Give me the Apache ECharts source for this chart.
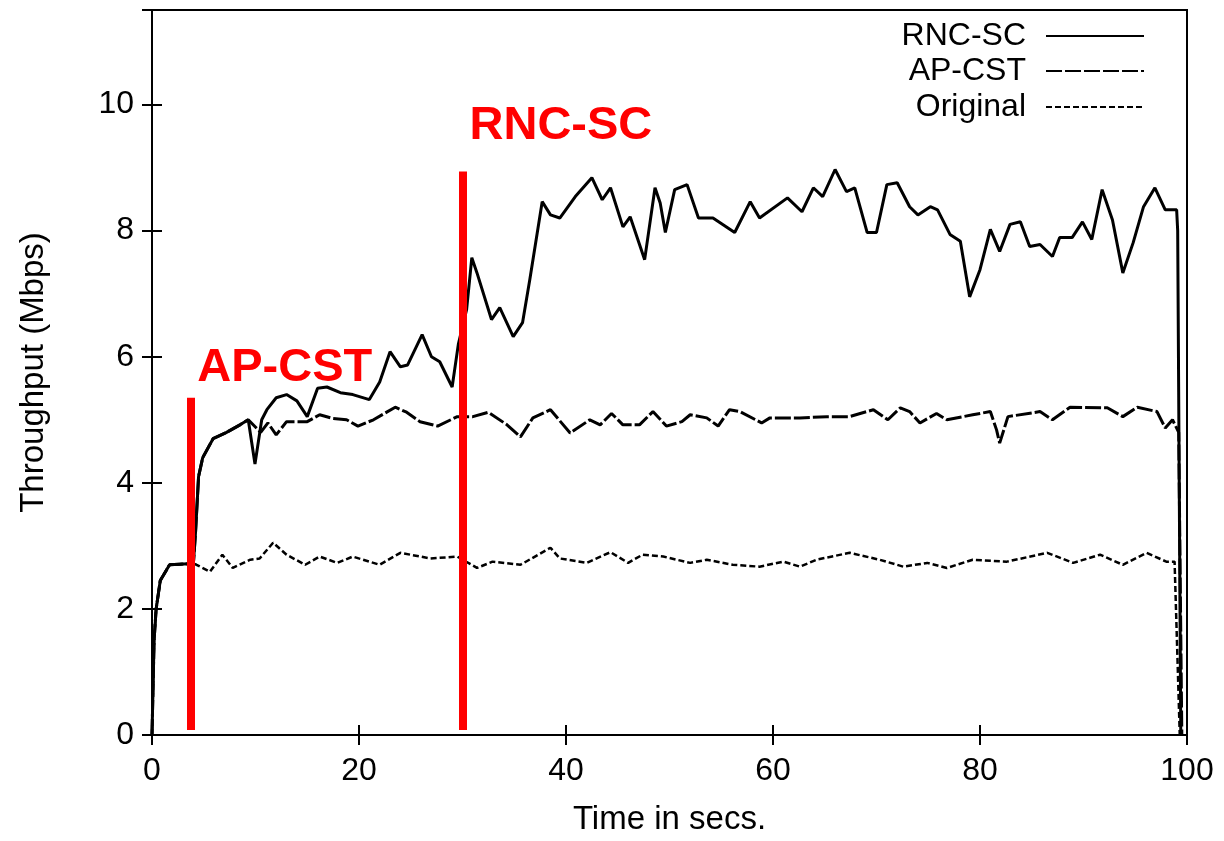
<!DOCTYPE html>
<html>
<head>
<meta charset="utf-8">
<title>Throughput vs time</title>
<script src="https://cdn.jsdelivr.net/npm/echarts@6/dist/echarts.min.js"></script>
<style>
  html, body { margin: 0; padding: 0; background: #fff; }
  #chart { width: 1224px; height: 841px; }
</style>
</head>
<body>
<div id="chart"></div>
<script>
// time (s) and throughput (Mbps)
let rncTime = [0, 0.2, 0.4, 0.8, 1.7, 4.0, 4.2, 4.5, 4.9, 5.9, 7.2, 8.5, 9.3, 9.95, 10.6, 11.1, 12, 13, 14, 15,
  16, 16.9, 18.2, 19.4, 21, 22, 23, 24, 24.7, 26.1, 27, 27.8, 29, 29.6, 30.4, 30.9, 31.4, 32.8, 33.6, 34.9,
  35.8, 36.5, 37.7, 38.5, 39.4, 40.9, 42.5, 43.5, 44.3, 45.5, 46.2, 47.6, 48.6, 49.1, 49.6, 50.5, 51.7, 52.8, 54.2, 56.3,
  57.8, 58.7, 61.4, 62.8, 63.9, 64.8, 66, 67.1, 67.9, 69.1, 70, 71, 72, 73.2, 74, 75.2, 75.9, 77.1, 78.1, 79,
  80, 81, 81.9, 82.9, 83.9, 84.8, 85.8, 87, 87.7, 88.9, 89.9, 90.8, 91.8, 92.8, 93.8, 94.8, 95.8, 96.9, 97.9, 99,
  99.1, 99.4];
let rncThroughput = [0, 1.5, 2.0, 2.45, 2.7, 2.72, 3.2, 4.1, 4.4, 4.7, 4.8, 4.92, 5.0, 4.3, 5.0, 5.16, 5.35, 5.4, 5.3, 5.05,
  5.5, 5.52, 5.43, 5.4, 5.32, 5.6, 6.08, 5.84, 5.87, 6.35, 6.0, 5.92, 5.52, 6.2, 6.75, 7.57, 7.33, 6.59, 6.78, 6.32,
  6.54, 7.22, 8.46, 8.25, 8.2, 8.54, 8.84, 8.49, 8.68, 8.06, 8.22, 7.54, 8.68, 8.44, 7.97, 8.65, 8.73, 8.2, 8.2, 7.97,
  8.46, 8.2, 8.52, 8.3, 8.68, 8.54, 8.97, 8.62, 8.68, 7.97, 7.97, 8.73, 8.76, 8.38, 8.25, 8.38, 8.33, 7.94, 7.83, 6.95,
  7.38, 8.02, 7.67, 8.1, 8.14, 7.75, 7.78, 7.59, 7.89, 7.89, 8.14, 7.86, 8.65, 8.17, 7.33, 7.81, 8.38, 8.68, 8.33, 8.33,
  8.0, 0];

let apTime = [0, 0.2, 0.4, 0.8, 1.7, 4.0, 4.2, 4.5, 4.9, 5.9, 7.2, 8.5, 9.3, 10.5, 11.2, 12, 13, 15, 16.2, 17.5,
  18.8, 19.9, 21.4, 23.5, 24.6, 25.9, 27.6, 29.5, 31, 32.5, 34.3, 35.6, 36.8, 38.5, 40.4, 42.3, 43.3, 44.4, 45.5, 47.1,
  48.4, 49.7, 51.2, 52, 53.6, 54.7, 55.8, 56.8, 58.9, 59.7, 62.6, 65.2, 67.4, 69.7, 71.1, 72.3, 73.2, 74.2, 75.8, 76.8,
  79.3, 81, 81.6, 81.9, 82.7, 85.8, 87, 88.7, 92.3, 93.8, 95.2, 97.1, 97.9, 98.6, 99.2, 99.5];
let apThroughput = [0, 1.5, 2.0, 2.45, 2.7, 2.72, 3.2, 4.1, 4.4, 4.7, 4.8, 4.92, 5.0, 4.8, 4.95, 4.76, 4.97, 4.97, 5.08, 5.02,
  5.0, 4.9, 5.0, 5.2, 5.12, 4.97, 4.9, 5.05, 5.05, 5.12, 4.92, 4.73, 5.03, 5.16, 4.79, 5.0, 4.92, 5.1, 4.92, 4.92,
  5.13, 4.9, 4.97, 5.08, 5.03, 4.9, 5.16, 5.13, 4.95, 5.03, 5.03, 5.05, 5.05, 5.16, 5.0, 5.19, 5.13, 4.95, 5.1, 5.0,
  5.08, 5.13, 4.84, 4.63, 5.05, 5.13, 5.0, 5.2, 5.19, 5.05, 5.2, 5.13, 4.87, 5.0, 4.8, 0];

let origTime = [0, 0.2, 0.4, 0.8, 1.7, 4.0, 4.3, 5.6, 6.8, 7.8, 9.5, 10.4, 11.7, 13, 14.8, 16.2, 17.9, 19.4, 22, 24,
  26.9, 29.5, 31.4, 32.9, 35.6, 38.5, 39.4, 42, 44.3, 46, 47.4, 49.4, 52, 53.6, 56.1, 58.7, 61, 62.6, 64.2, 67.4,
  70.3, 72.6, 74.9, 76.8, 79.3, 82.6, 86.5, 89, 91.6, 93.8, 96.1, 98, 98.8, 99.3];
let origThroughput = [0, 1.5, 2.0, 2.45, 2.7, 2.72, 2.7, 2.59, 2.86, 2.65, 2.78, 2.8, 3.05, 2.86, 2.7, 2.83, 2.73, 2.83, 2.7, 2.89,
  2.8, 2.83, 2.65, 2.75, 2.7, 2.97, 2.8, 2.73, 2.9, 2.73, 2.86, 2.83, 2.73, 2.78, 2.7, 2.67, 2.75, 2.67, 2.78, 2.89,
  2.78, 2.67, 2.73, 2.65, 2.78, 2.75, 2.89, 2.73, 2.86, 2.7, 2.89, 2.75, 2.75, 0];

let seriesNames = ['RNC-SC', 'AP-CST', 'Original'];

// red switch-over markers: time, top of bar, label
let markerNames = ['AP-CST', 'RNC-SC'];
let markerTimes = [3.7, 30];
let markerTops = [5.35, 8.94];
let markerBottom = 0.08;

let xTicks = [0, 100, 20];
let yTicks = [0, 11.5, 2];

let FONT = '"Liberation Sans", Arial, Helvetica, sans-serif';

function pairs(xs, ys) {
  let d = [];
  for(let i = 0; i < xs.length; i++) d.push([xs[i], ys[i]]);
  return d;
}

let chart = echarts.init(document.getElementById('chart'), null, {renderer: 'canvas'});

let tickStyle = {show: true, inside: true, length: 10, lineStyle: {color: '#000', width: 2}};
let lineAxis = {show: true, lineStyle: {color: '#000', width: 2}};

let markLines = [], markPoints = [];
for(let i = 0; i < markerNames.length; i++) {
  markLines.push([
    {coord: [markerTimes[i], markerBottom]},
    {coord: [markerTimes[i], markerTops[i]]}
  ]);
  markPoints.push({
    name: markerNames[i],
    coord: [markerTimes[i], markerTops[i]],
    label: {position: [7, i === 0 ? -6 : -22]}
  });
}

function legendFor(name, top) {
  return {
    data: [name],
    right: 79,
    top: top,
    padding: 0,
    align: 'right',
    orient: 'vertical',
    itemWidth: 98,
    itemHeight: 14,
    selectedMode: false,
    itemStyle: {opacity: 0},
    textStyle: {fontFamily: FONT, fontSize: 32, color: '#000', lineHeight: 34, padding: [0, 15, 0, 0]}
  };
}

let option = {
  animation: false,
  backgroundColor: '#fff',
  grid: {left: 152, right: 37, top: 10, bottom: 106, show: true, borderColor: '#000', borderWidth: 2},
  legend: [
    legendFor(seriesNames[0], 19),
    legendFor(seriesNames[1], 54),
    legendFor(seriesNames[2], 90)
  ],
  xAxis: [{
    type: 'value', position: 'bottom',
    min: xTicks[0], max: xTicks[1], interval: xTicks[2],
    axisLine: lineAxis, axisTick: tickStyle, splitLine: {show: false},
    axisLabel: {fontFamily: FONT, fontSize: 32, color: '#000', margin: 20},
    name: 'Time in secs.', nameLocation: 'middle', nameGap: 68,
    nameTextStyle: {fontFamily: FONT, fontSize: 33, color: '#000'}
  }, {
    type: 'value', position: 'top',
    min: xTicks[0], max: xTicks[1], interval: xTicks[2],
    axisLine: lineAxis, axisTick: tickStyle, splitLine: {show: false},
    axisLabel: {show: false}
  }],
  yAxis: [{
    type: 'value', position: 'left',
    min: yTicks[0], max: yTicks[1], interval: yTicks[2],
    axisLine: lineAxis, axisTick: tickStyle, splitLine: {show: false},
    axisLabel: {
      fontFamily: FONT, fontSize: 32, color: '#000', margin: 18,
      formatter: function(v) { return v % 2 === 0 ? String(v) : ''; }
    },
    name: 'Throughput (Mbps)', nameLocation: 'middle', nameGap: 102,
    nameTextStyle: {fontFamily: FONT, fontSize: 33, color: '#000'}
  }, {
    type: 'value', position: 'right',
    min: yTicks[0], max: yTicks[1], interval: yTicks[2],
    axisLine: lineAxis, axisTick: tickStyle, splitLine: {show: false},
    axisLabel: {show: false}
  }],
  series: [{
    name: seriesNames[0], type: 'line', symbol: 'none', showSymbol: false,
    lineStyle: {color: '#000', width: 3, type: 'solid'},
    itemStyle: {color: '#000'},
    data: pairs(rncTime, rncThroughput)
  }, {
    name: seriesNames[1], type: 'line', symbol: 'none', showSymbol: false,
    lineStyle: {color: '#000', width: 3, type: [16, 3]},
    itemStyle: {color: '#000'},
    data: pairs(apTime, apThroughput)
  }, {
    name: seriesNames[2], type: 'line', symbol: 'none', showSymbol: false,
    lineStyle: {color: '#000', width: 2.5, type: [6, 3]},
    itemStyle: {color: '#000'},
    data: pairs(origTime, origThroughput)
  }, {
    name: 'markers', type: 'line', symbol: 'none', data: [],
    markLine: {
      silent: true, symbol: ['none', 'none'],
      lineStyle: {color: '#ff0000', width: 8, type: 'solid'},
      label: {show: false},
      data: markLines
    },
    markPoint: {
      silent: true, symbol: 'circle', symbolSize: 0,
      itemStyle: {color: 'rgba(0,0,0,0)'},
      label: {
        show: true, formatter: '{b}', align: 'left', verticalAlign: 'bottom',
        color: '#ff0000', fontFamily: FONT, fontSize: 47, fontWeight: 'bold'
      },
      data: markPoints
    }
  }]
};

chart.setOption(option);
window.onresize = function() { chart.resize(); };
</script>
</body>
</html>
